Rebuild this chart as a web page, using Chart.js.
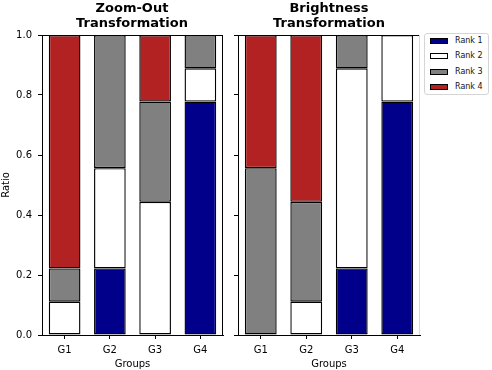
<!DOCTYPE html>
<html>
<head>
<meta charset="utf-8">
<script src="https://cdn.jsdelivr.net/npm/chart.js@4.4.0/dist/chart.umd.min.js"></script>
<style>
  html, body { margin: 0; padding: 0; background: #fff; }
  body { width: 492px; height: 370px; position: relative; overflow: hidden; font-family: 'DejaVu Sans', sans-serif; }
  canvas { position: absolute; top: 0; }
  .title { position: absolute; top: 0; width: 200px; text-align: center; font-weight: bold; font-size: 13px; line-height: 15px; color: #000; }
  #legend { position: absolute; left: 424px; top: 33px; width: 65px; height: 62px; border: 1px solid #d5d5d5; border-radius: 3px; box-sizing: border-box; background: #fff; }
  .li { position: absolute; left: 5px; height: 12px; font-size: 8px; line-height: 12px; color: #111; white-space: nowrap; }
  .sw { position: absolute; left: 0; top: 3px; width: 18px; height: 6px; border: 1px solid #000; box-sizing: border-box; }
  .lt { position: absolute; left: 25px; top: 0; }
</style>
</head>
<body>
<canvas id="c1" width="230" height="370" style="left:0px"></canvas>
<canvas id="c2" width="195" height="370" style="left:230px"></canvas>
<div class="title" style="left:32px">Zoom-Out<br>Transformation</div>
<div class="title" style="left:229px">Brightness<br>Transformation</div>
<div id="legend"></div>
<script>
const groups = ['G1', 'G2', 'G3', 'G4'];
const rankNames = ['Rank 1', 'Rank 2', 'Rank 3', 'Rank 4'];
const rankColors = ['#00008b', '#ffffff', '#808080', '#b22222'];
const yTicks = [0, 0.2, 0.4, 0.6, 0.8, 1.0];

// Zoom-Out Transformation
const zoomRank1 = [0, 0.222, 0, 0.778];
const zoomRank2 = [0.111, 0.334, 0.444, 0.111];
const zoomRank3 = [0.111, 0.444, 0.334, 0.111];
const zoomRank4 = [0.778, 0, 0.222, 0];

// Brightness Transformation
const brightRank1 = [0, 0, 0.222, 0.778];
const brightRank2 = [0, 0.111, 0.667, 0.222];
const brightRank3 = [0.556, 0.333, 0.111, 0];
const brightRank4 = [0.444, 0.556, 0, 0];

const FONT = 'DejaVu Sans';

function makeDatasets(series) {
  return series.map((vals, i) => ({
    label: rankNames[i],
    data: vals,
    backgroundColor: rankColors[i],
    borderColor: '#000',
    borderWidth: 1.4,
    borderSkipped: false,
    barPercentage: 0.7,
    categoryPercentage: 1.0
  }));
}

function frame(rightColor) {
  return {
    id: 'frame',
    afterDatasetsDraw(chart) {
      const a = chart.chartArea, ctx = chart.ctx;
      ctx.save();
      ctx.lineWidth = 1;
      ctx.strokeStyle = '#000';
      ctx.beginPath();
      ctx.moveTo(a.left, a.top + 0.5);
      ctx.lineTo(a.right, a.top + 0.5);
      ctx.stroke();
      ctx.strokeStyle = rightColor;
      ctx.beginPath();
      ctx.moveTo(a.right - 0.5, a.top);
      ctx.lineTo(a.right - 0.5, a.bottom);
      ctx.stroke();
      ctx.restore();
    }
  };
}

function makeChart(id, series, showLabels, yWidth, padRight, rightColor) {
  return new Chart(document.getElementById(id), {
    type: 'bar',
    data: { labels: groups, datasets: makeDatasets(series) },
    plugins: [frame(rightColor)],
    options: {
      responsive: false,
      animation: false,
      devicePixelRatio: 1,
      layout: { padding: { top: 35, right: padRight, left: 0, bottom: 0 } },
      plugins: { legend: { display: false }, tooltip: { enabled: false }, title: { display: false } },
      scales: {
        x: {
          stacked: true,
          offset: true,
          grid: { display: true, drawOnChartArea: false, drawTicks: true, tickLength: 4, color: '#000', offset: false },
          border: { display: true, color: '#000', width: 1 },
          ticks: { color: '#000', font: { family: FONT, size: 10 }, padding: 5, maxRotation: 0 },
          title: { display: true, text: 'Groups', color: '#000', font: { family: FONT, size: 10 }, padding: 0 },
          afterFit(scale) { scale.height = 35; }
        },
        y: {
          stacked: true,
          min: 0,
          max: 1,
          afterBuildTicks(scale) { scale.ticks = yTicks.map(v => ({ value: v })); },
          grid: { display: true, drawOnChartArea: false, drawTicks: true, tickLength: 4, color: '#000' },
          border: { display: true, color: '#000', width: 1 },
          ticks: {
            color: '#000', font: { family: FONT, size: 10 }, padding: 6,
            callback: (v) => showLabels ? Number(v).toFixed(1) : ''
          },
          title: { display: showLabels, text: 'Ratio', color: '#000', font: { family: FONT, size: 10 }, padding: 0 },
          afterFit(scale) { scale.width = yWidth; }
        }
      }
    }
  });
}

makeChart('c1', [zoomRank1, zoomRank2, zoomRank3, zoomRank4], true, 42, 7, '#000');
makeChart('c2', [brightRank1, brightRank2, brightRank3, brightRank4], false, 8, 5, '#d8d8d8');

// legend
const leg = document.getElementById('legend');
const rowTops = [0, 15.3, 30.6, 45.9];
rankNames.forEach((name, i) => {
  const li = document.createElement('div');
  li.className = 'li';
  li.style.top = (1 + rowTops[i]) + 'px';
  const sw = document.createElement('div');
  sw.className = 'sw';
  sw.style.background = rankColors[i];
  const t = document.createElement('span');
  t.className = 'lt';
  t.textContent = name;
  li.appendChild(sw);
  li.appendChild(t);
  leg.appendChild(li);
});
</script>
</body>
</html>
